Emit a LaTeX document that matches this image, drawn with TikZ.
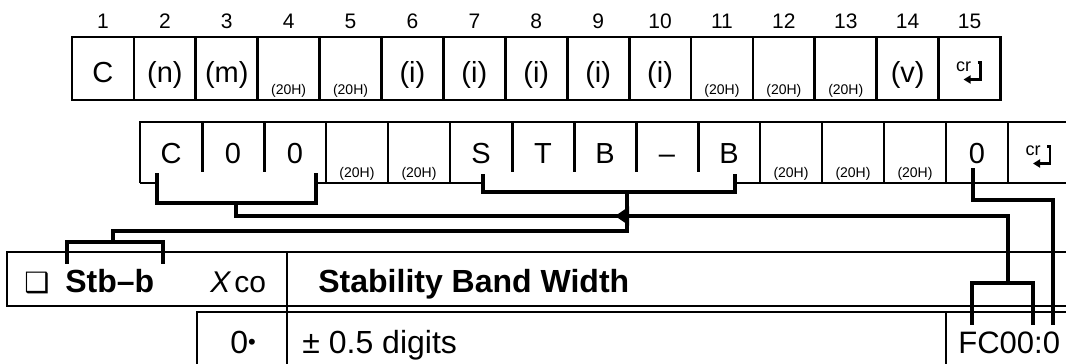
\documentclass[tikz,border=0pt]{standalone}
\usepackage{fontspec}
\setmainfont{Liberation Sans}
\newfontfamily\symfont{DejaVu Sans}
\usetikzlibrary{arrows.meta}
\tikzset{
  boxT/.style ={line width=1.4pt},
  boxB/.style ={line width=1.1pt},
  grpB/.style ={line width=1.5pt},
  tbl/.style  ={line width=1pt},
  link/.style ={line width=2pt, line cap=rect},
  num/.style  ={font=\fontsize{10.5}{12}\selectfont, anchor=base, inner sep=0pt},
  big/.style  ={font=\fontsize{14.5}{16}\selectfont, anchor=base, inner sep=0pt},
  hex/.style  ={font=\fontsize{7}{8}\selectfont, anchor=base, inner sep=0pt},
  txt/.style  ={font=\fontsize{16}{18}\selectfont, anchor=base west, inner sep=0pt},
  crsym/.pic  ={
    \node[font=\fontsize{9}{9}\selectfont, inner sep=0pt] at (-6,-2) {cr};
    \draw[line width=1.3pt, -{Triangle[length=3.5pt,width=4pt]}] (8,-6) -- (11,-6) -- (11,11) -- (-6,11);
  },
}
\begin{document}
\begin{tikzpicture}[x=0.5pt, y=-0.5pt]
  \useasboundingbox (0,0) rectangle (1066,364);
  % command frame
  \foreach \i in {1,...,15}{
    \draw[boxT] ({72+(\i-1)*61.9},37) rectangle ++(61.9,63);
    \node[num] (n\i) at ({72+(\i-0.5)*61.9},28) {\i};
  }
  \foreach \i/\c in {1/C,2/{(n)},3/{(m)},6/{(i)},7/{(i)},8/{(i)},9/{(i)},10/{(i)},14/{(v)}}
    \node[big] (t\i) at ({72+(\i-0.5)*61.9},82) {\c};
  \foreach \i in {4,5,11,12,13}
    \node[hex] (t\i) at ({72+(\i-0.5)*61.9},94) {(20H)};
  \pic (t15) at ({72+14.5*61.9},68.5) {crsym};
  % command example
  \draw[boxB] (140,183) -- (140,122) -- (1066,122);
  \draw[boxB] (140,183) -- (157,183) (316,183) -- (483,183) (735,183) -- (1066,183);
  \foreach \k in {3,4,5,10,11,12,13,14}
    \draw[boxB] ({140+\k*62},122) -- ++(0,61);
  \foreach \k in {1,2,6,7,8,9}
    \draw[grpB] ({140+\k*62},122) -- ++(0,50);
  \foreach \i/\c in {1/C,2/0,3/0,6/S,7/T,8/B,9/–,10/B,14/0}
    \node[big] (b\i) at ({140+(\i-0.5)*62},163) {\c};
  \foreach \i in {4,5,11,12,13}
    \node[hex] (b\i) at ({140+(\i-0.5)*62},177) {(20H)};
  \pic (b15) at ({140+14.5*62},152.5) {crsym};
  % brackets
  \coordinate (c00a) at (157,175);  \coordinate (c00b) at (316,175);
  \coordinate (c00m) at (236,203);  \coordinate (jn) at (627,216);
  \coordinate (stba) at (483,176);  \coordinate (stbb) at (735,176);
  \coordinate (jtop) at (627,192);  \coordinate (prm) at (113,242);
  \coordinate (pa) at (67,262);     \coordinate (pb) at (163,262);
  \coordinate (fcm) at (1008,283);  \coordinate (tip) at (615,216);
  \coordinate (fa) at (972,323);    \coordinate (fb) at (1033,323);
  \coordinate (zs) at (973,170);    \coordinate (ze) at (1053,323);
  \draw[link] (c00a) -- ++(0,28) -| (c00b);
  \draw[link] (c00m) |- (jn);
  \draw[link] (stba) -- ++(0,16) -| (stbb);
  \draw[link] (jtop) -- ++(0,39) -| (prm);
  \draw[link] (pa) -- ++(0,-20) -| (pb);
  \draw[link] (fa) -- ++(0,-40) -| (fb);
  \draw[link, -{Triangle[length=7pt,width=9pt]}] (fcm) |- (tip);
  \draw[link] (zs) -- ++(0,30) -| (ze);
  % parameter table
  \draw[tbl] (1066,252) -- (7,252) -- (7,306) -- (1066,306);
  \draw[tbl] (197,364) -- (197,312) -- (1066,312);
  \draw[tbl] (287,252) -- (287,364);
  \draw[tbl] (946,312) -- (946,364);
  \node[txt, font=\fontsize{14}{16}\selectfont] (sq) at (24,292) {\symfont ❑};
  \node[txt, font=\fontsize{16}{18}\selectfont\bfseries] (stb) at (65,292) {Stb–b};
  \node[txt, font=\fontsize{15}{18}\selectfont\itshape] (chi) at (210,292) {X};
  \node[txt, font=\fontsize{15}{18}\selectfont] (co) at (234,292) {co};
  \node[txt, font=\fontsize{16}{18}\selectfont\bfseries] (title) at (318,292) {Stability Band Width};
  \node[txt] (dflt) at (230,353) {0\raisebox{2pt}{\fontsize{11}{11}\selectfont •}};
  \node[txt] (band) at (302,353) {± 0.5 digits};
  \node[txt, font=\fontsize{15.5}{18}\selectfont] (addr) at (958,353) {FC00:0};
\end{tikzpicture}
\end{document}
